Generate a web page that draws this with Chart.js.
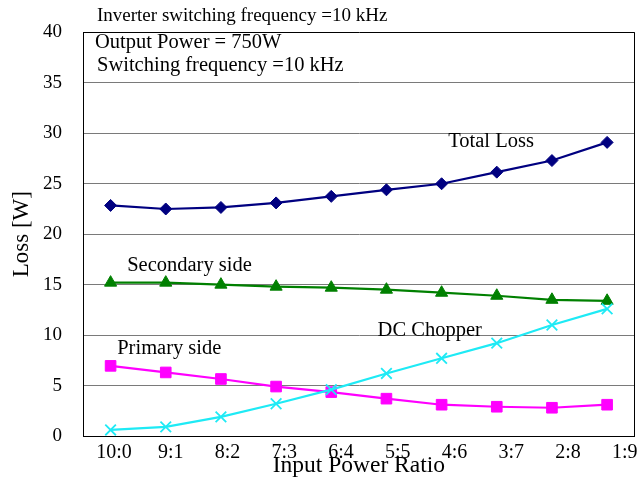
<!DOCTYPE html>
<html>
<head>
<meta charset="utf-8">
<title>Loss vs Input Power Ratio</title>
<script src="https://cdn.jsdelivr.net/npm/chart.js@4.4.1/dist/chart.umd.min.js"></script>
<style>
  html, body { margin: 0; padding: 0; background: #fff; }
  canvas { display: block; }
</style>
</head>
<body>
<canvas id="lossChart" width="644" height="480"></canvas>
<script>
// input power ratio categories
const categories = ['10:0', '9:1', '8:2', '7:3', '6:4', '5:5', '4:6', '3:7', '2:8', '1:9'];

// losses in W
const totalLoss     = [22.85, 22.5, 22.65, 23.1, 23.75, 24.4, 25.0, 26.15, 27.3, 29.1];
const secondarySide = [15.2, 15.2, 15.0, 14.8, 14.7, 14.5, 14.2, 13.9, 13.5, 13.4];
const primarySide   = [6.95, 6.3, 5.65, 4.9, 4.35, 3.7, 3.1, 2.9, 2.8, 3.1];
const dcChopper     = [0.6, 0.9, 1.9, 3.2, 4.6, 6.2, 7.7, 9.2, 11.0, 12.6];

const yTicks = [0, 5, 10, 15, 20, 25, 30, 35, 40];

const headerLines = [
    { text: 'Inverter switching frequency =10 kHz', x: 97, y: 16, size: 19 },
    { text: 'Output Power = 750W', x: 95, y: 43, size: 20.5 },
    { text: 'Switching frequency =10 kHz', x: 97, y: 66, size: 20.5 }
];

// series names written next to the curves (category index, loss value)
const seriesLabels = [
    { text: 'Total Loss', x: 6.12, y: 29.2 },
    { text: 'Secondary side', x: 0.30, y: 16.85 },
    { text: 'Primary side', x: 0.12, y: 8.66 },
    { text: 'DC Chopper', x: 4.84, y: 10.43 }
];

const SERIF = '"Liberation Serif", "Times New Roman", serif';

// frame, header text and curve names
const textPlugin = {
    id: 'textPlugin',
    afterDraw: function(chart) {
        var ctx = chart.ctx;
        var area = chart.chartArea;
        var xs = chart.scales.x, ys = chart.scales.y;

        ctx.save();
        ctx.strokeStyle = '#000';
        ctx.lineWidth = 1;
        ctx.beginPath();
        ctx.moveTo(Math.round(area.right) - 0.5, area.top);
        ctx.lineTo(Math.round(area.right) - 0.5, area.bottom);
        ctx.stroke();

        ctx.fillStyle = '#000';
        ctx.textBaseline = 'middle';
        ctx.textAlign = 'left';
        headerLines.forEach(function(l) {
            ctx.font = l.size + 'px ' + SERIF;
            ctx.fillText(l.text, l.x, l.y);
        });

        ctx.font = '20.5px ' + SERIF;
        seriesLabels.forEach(function(l) {
            ctx.fillText(l.text, xs.getPixelForValue(l.x), ys.getPixelForValue(l.y));
        });
        ctx.restore();
    }
};

function lineSet(label, data, color, style, radius, width) {
    return {
        label: label,
        data: data,
        borderColor: color,
        backgroundColor: color,
        borderWidth: 2.2,
        pointStyle: style,
        pointRadius: radius,
        pointHoverRadius: radius,
        pointBorderWidth: width || 1,
        pointBorderColor: color,
        pointBackgroundColor: color,
        tension: 0,
        clip: false
    };
}

var ctx = document.getElementById('lossChart').getContext('2d');
var lossChart = new Chart(ctx, {
    type: 'line',
    data: {
        labels: categories,
        datasets: [
            lineSet('DC Chopper', dcChopper, '#1EEAF5', 'crossRot', 7.5, 1.8),
            lineSet('Primary side', primarySide, '#FF00FF', 'rect', 7.5),
            lineSet('Secondary side', secondarySide, '#008000', 'triangle', 7),
            lineSet('Total Loss', totalLoss, '#000080', 'rectRot', 6)
        ]
    },
    options: {
        responsive: false,
        animation: false,
        devicePixelRatio: 1,
        layout: { padding: { top: 30, right: 7, left: 0, bottom: 0 } },
        plugins: {
            legend: { display: false },
            tooltip: { enabled: false }
        },
        scales: {
            x: {
                type: 'category',
                offset: true,
                display: false
            },
            // axis carrying the ratio labels
            xl: {
                type: 'linear',
                position: 'bottom',
                min: -0.546,
                max: 9.174,
                afterBuildTicks: function(scale) {
                    scale.ticks = categories.map(function(c, i) { return { value: i }; });
                },
                afterFit: function(scale) { scale.height = 44; },
                grid: { display: false, drawTicks: false },
                border: { display: true, color: '#000', width: 1 },
                ticks: {
                    padding: 5,
                    autoSkip: false,
                    maxRotation: 0,
                    color: '#000',
                    font: { family: SERIF, size: 20 },
                    callback: function(v) { return categories[v]; }
                },
                title: {
                    display: true,
                    text: 'Input Power Ratio',
                    color: '#000',
                    padding: { top: 0, bottom: 0 },
                    font: { family: SERIF, size: 23.5 }
                }
            },
            y: {
                min: 0,
                max: 40,
                afterBuildTicks: function(scale) {
                    scale.ticks = yTicks.map(function(v) { return { value: v }; });
                },
                afterFit: function(scale) { scale.width = 83; },
                grid: {
                    drawTicks: false,
                    lineWidth: 1,
                    color: function(c) { return c.tick && c.tick.value === 40 ? '#000' : '#7a7a7a'; }
                },
                border: { display: true, color: '#000', width: 1 },
                ticks: {
                    padding: 21,
                    color: '#000',
                    font: { family: SERIF, size: 19 }
                },
                title: {
                    display: true,
                    text: 'Loss [W]',
                    color: '#000',
                    padding: { top: 8, bottom: 0 },
                    font: { family: SERIF, size: 23 }
                }
            }
        }
    },
    plugins: [textPlugin]
});
</script>
</body>
</html>
